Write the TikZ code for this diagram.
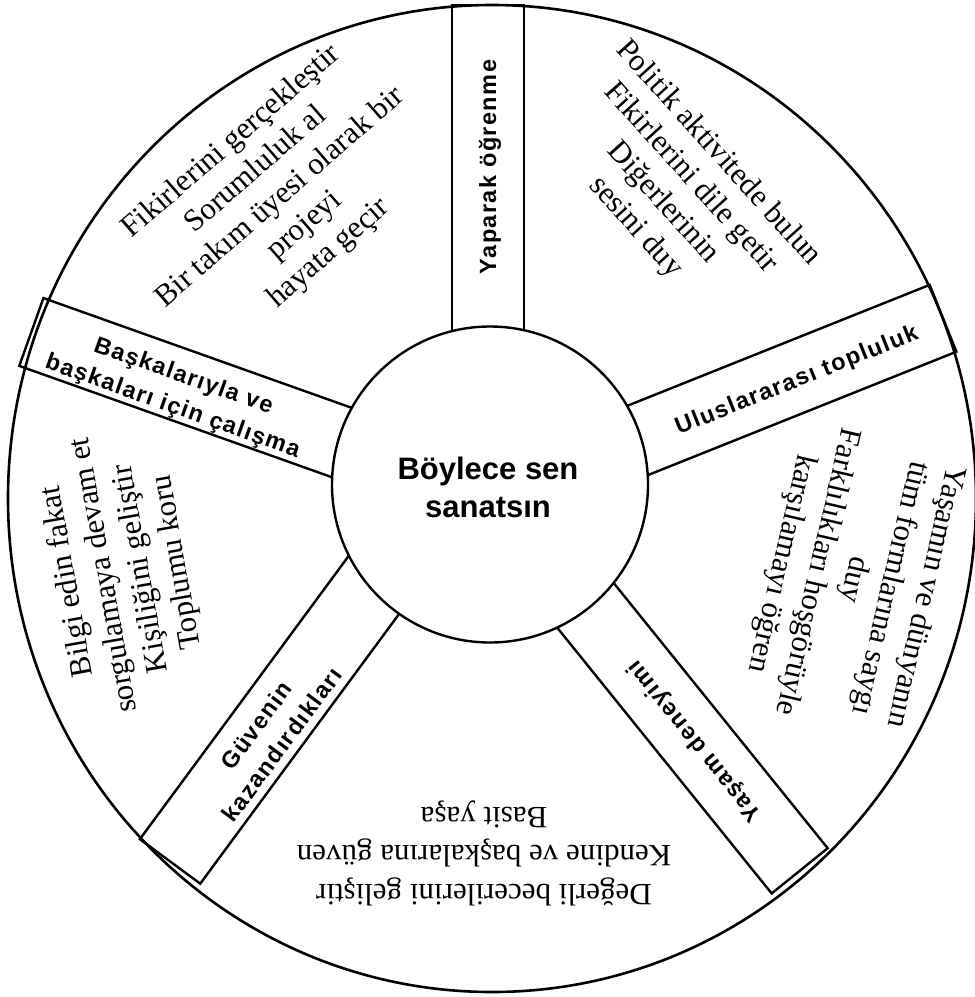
\documentclass[tikz,border=0pt]{standalone}
\usepackage{fontspec}
\usetikzlibrary{shapes.geometric}
\newfontfamily\lblfont[LetterSpace=6]{Liberation Sans}
\newfontfamily\ctrfont{Liberation Sans}
\newfontfamily\serfont{Liberation Serif}
\tikzset{
  spoke/.style={draw, line width=2.4pt, fill=white, rectangle, inner sep=0pt},
  rim/.style={draw, line width=2.6pt, ellipse, inner sep=0pt},
  hubstyle/.style={draw, line width=2.4pt, fill=white, circle, inner sep=0pt},
  lbl/.style={inner sep=0pt, align=center, font=\lblfont\bfseries\fontsize{23.5}{32}\selectfont},
  sect/.style={inner sep=0pt, align=center, font=\serfont\fontsize{31}{37}\selectfont},
  ctr/.style={inner sep=0pt, align=center, font=\ctrfont\bfseries\fontsize{31}{38}\selectfont}
}
\begin{document}
\begin{tikzpicture}[x=1pt, y=-1pt]
\useasboundingbox (0,0) rectangle (975,997);
\fill[white] (0,0) rectangle (975,997);
% spokes
\node[spoke, minimum width=375pt, minimum height=72pt, rotate=90] (s1) at (488,192.5) {};
\node[spoke, minimum width=404pt, minimum height=72pt, rotate=21.8] (s2) at (755.5,393.3) {};
\node[spoke, minimum width=420pt, minimum height=72pt, rotate=-51.1] (s3) at (667.8,707.4) {};
\node[spoke, minimum width=412pt, minimum height=75pt, rotate=-126.4] (s4) at (292.3,695.6) {};
\node[spoke, minimum width=399pt, minimum height=72pt, rotate=160.4] (s5) at (219.3,398.9) {};
% outer rim
\node[rim, minimum width=968pt, minimum height=987pt] (outer) at (492,498.5) {};
% hub
\node[hubstyle, minimum size=316pt] (hub) at (490,484.5) {};
\node[ctr] (title) at (488,487) {Böylece sen\\sanatsın};
% spoke labels
\node[lbl, rotate=90] (l1) at (490,167) {Yaparak öğrenme};
\node[lbl, rotate=21.8] (l2) at (797,381) {Uluslararası topluluk};
\node[lbl, rotate=128.9] (l3) at (695,741) {Yaşam deneyimi};
\node[lbl, rotate=53.6] (l4) at (269,735) {Güvenin\\kazandırdıkları};
\node[lbl, rotate=-19.6] (l5) at (178,392) {Başkalarıyla ve\\başkaları için çalışma};
% sector texts
\node[sect, rotate=41] (ta) at (280.5,198) {Fikirlerini gerçekleştir\\Sorumluluk al\\Bir takım üyesi olarak bir\\projeyi\\hayata geçir};
\node[sect, rotate=-48] (tb) at (676.7,190.5) {Politik aktivitede bulun\\Fikirlerini dile getir\\Diğerlerinin\\sesini duy};
\node[sect, rotate=-103] (tc) at (853,580) {Yaşamın ve dünyanın\\tüm formlarına saygı\\duy\\Farklılıkları hoşgörüyle\\karşılamayı öğren};
\node[sect, rotate=180, font=\serfont\fontsize{31}{38.5}\selectfont] (td) at (484,853) {Değerli becerilerini geliştir\\Kendine ve başkalarına güven\\Basit yaşa};
\node[sect, rotate=100] (te) at (123,572) {Bilgi edin fakat\\sorgulamaya devam et\\Kişiliğini geliştir\\Toplumu koru};
\end{tikzpicture}
\end{document}
